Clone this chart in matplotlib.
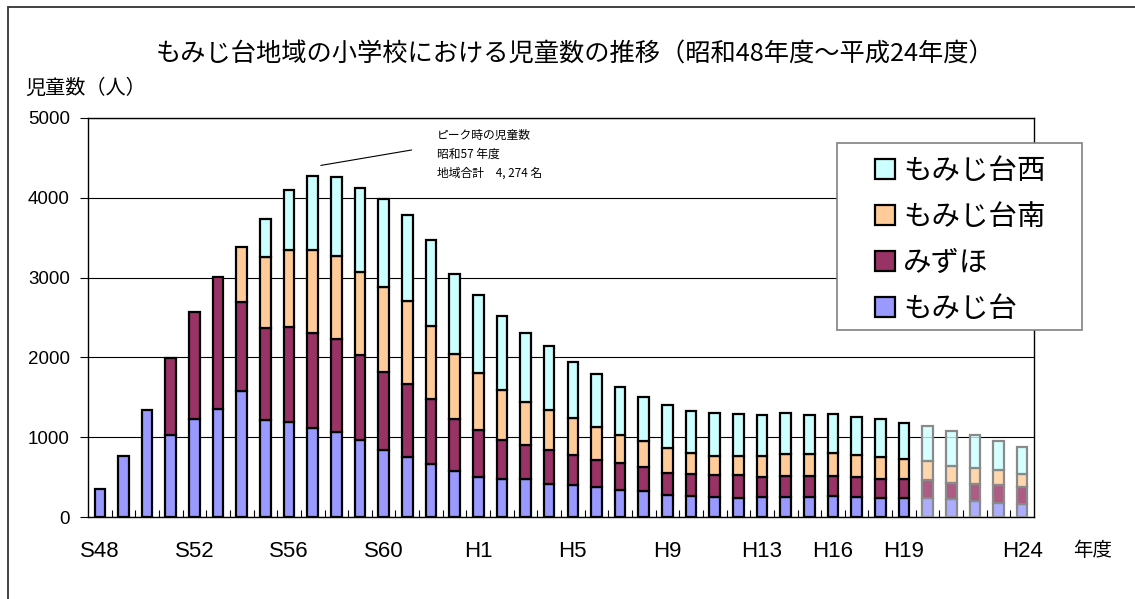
import matplotlib
matplotlib.use("Agg")
import numpy as np
import matplotlib.pyplot as plt
from matplotlib.patches import Patch, Rectangle
from matplotlib.colors import to_rgba
from matplotlib.ticker import FixedLocator, NullFormatter

# fiscal years S48 (1973) .. H24 (2012)
years = [f"S{y}" for y in range(48, 64)] + [f"H{y}" for y in range(1, 25)]
shown_years = ["S48", "S52", "S56", "S60", "H1", "H5", "H9", "H13", "H16", "H19", "H24"]
n_actual = 35  # H20 onward is projected (drawn faded)

momiji = [347, 766, 1339, 1033, 1222, 1351, 1577, 1213, 1192, 1113,
          1067, 962, 837, 753, 669, 573, 502, 473, 473, 418,
          406, 377, 343, 322, 276, 264, 251, 243, 251, 255,
          255, 259, 255, 243, 243, 238, 222, 197, 176, 167]
mizuho = [0, 0, 0, 963, 1351, 1661, 1122, 1151, 1185, 1192,
          1167, 1067, 983, 908, 808, 653, 594, 494, 435, 419,
          368, 338, 331, 306, 280, 276, 276, 284, 255, 255,
          260, 258, 243, 234, 230, 222, 201, 217, 221, 210]
south = [0, 0, 0, 0, 0, 0, 686, 891, 966, 1038,
         1034, 1042, 1067, 1050, 916, 816, 703, 623, 527, 502,
         464, 415, 359, 322, 310, 268, 243, 243, 264, 277,
         275, 283, 284, 272, 251, 239, 217, 205, 189, 159]
west = [0, 0, 0, 0, 0, 0, 0, 481, 757, 931,
        991, 1054, 1096, 1076, 1076, 1004, 983, 929, 866, 807,
        708, 661, 590, 552, 536, 518, 535, 519, 514, 510,
        490, 489, 477, 481, 456, 447, 435, 406, 364, 343]

series_names = ["もみじ台", "みずほ", "もみじ台南", "もみじ台西"]
series_colors = ["#9999FF", "#993366", "#FFCC99", "#CCFFFF"]

plt.rcParams["font.family"] = ["Noto Sans CJK JP", "DejaVu Sans"]

W, H = 1135, 599
fig = plt.figure(figsize=(W / 100, H / 100), dpi=100)
ax = fig.add_axes([88 / W, 1 - 517 / H, (1034 - 88) / W, (517 - 118) / H])

x = np.arange(len(years))
bottom = np.zeros(len(years))
for vals, color in zip([momiji, mizuho, south, west], series_colors):
    vals = np.array(vals, dtype=float)
    face = [to_rgba(color) if i < n_actual else to_rgba(color, 0.8) for i in x]
    edge = ["black" if i < n_actual else "#8a8a8a" for i in x]
    mask = vals > 0
    ax.bar(x[mask], vals[mask], 0.45, bottom=bottom[mask],
           color=[face[i] for i in x[mask]], edgecolor=[edge[i] for i in x[mask]],
           linewidth=1.6, zorder=3)
    bottom += vals

ax.set_xlim(-0.5, len(years) - 0.5)
ax.set_ylim(0, 5000)
ax.set_yticks(range(0, 5001, 1000))
ax.yaxis.grid(True, color="black", linewidth=0.8, zorder=0)

# labels only at selected years, small ticks between categories
ax.set_xticks([years.index(y) for y in shown_years])
ax.set_xticklabels(shown_years, fontfamily="Liberation Sans", fontsize=16)
ax.xaxis.set_minor_locator(FixedLocator(np.arange(0.5, len(years) - 0.5, 1)))
ax.xaxis.set_minor_formatter(NullFormatter())
ax.tick_params(axis="x", which="major", length=0, pad=17)
ax.tick_params(axis="x", which="minor", direction="in", length=5, width=0.8)
ax.tick_params(axis="y", direction="out", length=6, width=0.8, pad=7)
for lab in ax.get_yticklabels():
    lab.set_fontfamily("Liberation Sans")
    lab.set_fontsize(13.5)

for sp in ax.spines.values():
    sp.set_linewidth(1.0)

fig.text(575 / W, 1 - 55 / H,
         "もみじ台地域の小学校における児童数の推移（昭和48年度～平成24年度）",
         fontsize=18.2, ha="center", va="center")
fig.text(25 / W, 1 - 88 / H, "児童数（人）", fontsize=14.5, va="center", ha="left")
fig.text(1073 / W, 1 - 551 / H, "年度", fontsize=14, va="center", ha="left")

# peak annotation
peak = int(np.argmax(bottom))
ax.annotate("", xy=(peak + 0.23, 4400), xytext=(peak + 4.3, 4605),
            arrowprops=dict(arrowstyle="-", color="black", linewidth=0.8))
ax.text(peak + 5.25, 4860,
        "ピーク時の児童数\n昭和57 年度\n地域合計　4, 274 名",
        fontsize=8.5, va="top", ha="left", linespacing=1.55)

# legend box (drawn separately so it can be wider than its contents)
fig.patches.append(Rectangle((837 / W, 1 - 330 / H), (1082 - 837) / W, (330 - 143) / H,
                             transform=fig.transFigure, facecolor="white",
                             edgecolor="#808080", linewidth=1.2, zorder=4))
handles = [Patch(facecolor=c, edgecolor="black", linewidth=1.6)
           for c in series_colors][::-1]
fig.legend(handles, series_names[::-1], loc="upper left",
           bbox_to_anchor=(875 / W, 1 - 156 / H),
           fontsize=20.5, frameon=False,
           handlelength=0.7, handleheight=0.7, handletextpad=0.28,
           labelspacing=0.56, borderpad=0, borderaxespad=0)

# outer chart frame
fig.patches.append(Rectangle((8 / W, -0.1), 1.5, 1.1 - 7 / H,
                             transform=fig.transFigure, fill=False,
                             edgecolor="#333333", linewidth=1.3))

fig.savefig("out.png", dpi=100)
